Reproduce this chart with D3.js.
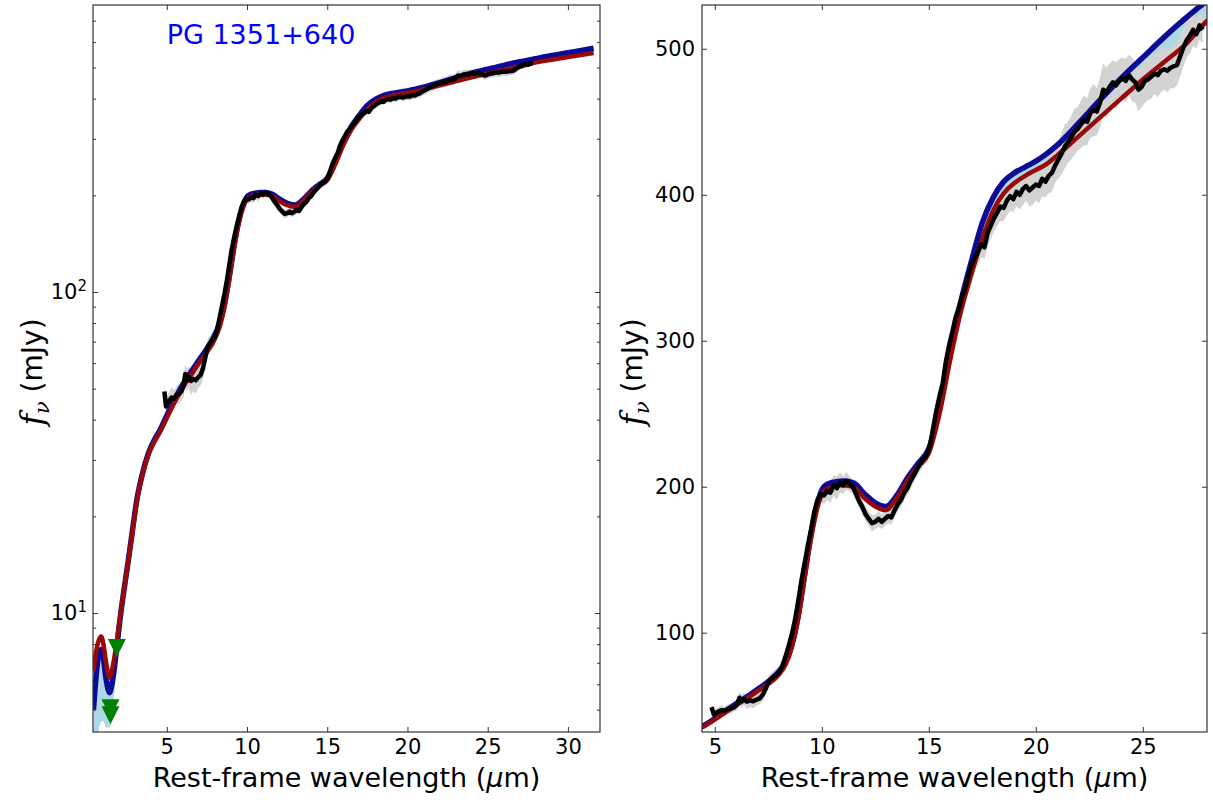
<!DOCTYPE html>
<html><head><meta charset="utf-8">
<script src="https://cdn.jsdelivr.net/npm/d3@7"></script>
<style>
body{margin:0;background:#fff;}
svg text{font-family:"DejaVu Sans",sans-serif;}
</style></head>
<body><svg id="chart" width="1213" height="800"></svg>
<script>
// ---------- data ----------
const modelWave = [0.43,0.6,0.75,0.91,1.05,1.2,1.43,1.65,1.89,2.1,
  2.3,2.61,2.9,3.11,3.45,3.84,4.2,4.56,5.0,5.5,
  6.0,6.5,7.0,7.5,8.0,8.3,8.6,8.9,9.2,9.5,
  9.8,10.1,10.5,11.0,11.5,12.0,12.5,13.0,13.5,14.0,
  14.5,15.0,15.5,16.0,16.5,17.0,17.5,18.0,18.5,19.0,
  19.5,20.0,20.5,21.0,22.0,23.0,24.0,25.0,26.0,27.0,
  28.0,29.0,30.0,31.0,31.6];
const modelRed = [6.6,7.6,8.2,8.45,8.0,7.1,6.3,6.9,8.2,9.8,
  11.5,14.6,18.5,22.0,26.5,31.0,34.0,36.5,40.5,45.5,
  50.5,55.0,60.0,65.0,71.5,78,90,110,138,165,
  186,197,200,201,199.5,192,186.5,184,192,204,
  214,223,250,287,320,346,370,389,401,408,
  413,417,421,427,440,453,466,479,491,503,
  519,529,539,549,555];
const modelBlue = [5.0,6.4,7.4,7.7,7.2,6.3,5.65,6.3,7.9,9.7,
  11.5,14.7,18.7,22.2,26.8,31.3,34.4,37.0,41.2,46.3,
  51.5,56.2,61.3,66.5,73.5,80,92,112,140,168,
  189,200,203,204,202.5,195,189,186.5,194,206,
  216,226,254,292,327,355,381,398,409,415,
  419,423,428,434,449,465,480,494,508,521,
  533,545,556,567,574];
const bandLow = [3.8,4.0,4.3,4.6,4.6,4.4,4.4,5.2,6.8,8.9,
  11.0,14.2,18.2,21.7,26.2,30.7,33.7,36.2,40.2,45.2,
  50.2,54.7,59.7,64.7,71.2,77.7,89.6,109.6,137.5,164.5,
  185.5,196.5,199.5,200.5,199,191.5,186,183.5,191.5,203.5,
  213.5,222.5,249.5,286,319,345,369,388,400,407,
  412,416,420,426,439,452,465,478,490,502,
  516,527,538,548,554];

const dataWave = [4.85,4.95,5.05,5.15,5.30,5.45,5.60,5.75,5.90,6.05,
  6.15,6.25,6.35,6.50,6.65,6.80,6.95,7.10,7.25,7.40,
  7.55,7.70,7.85,8.00,8.15,8.30,8.45,8.60,8.75,8.90,
  9.05,9.20,9.35,9.50,9.65,9.80,9.95,10.10,10.25,10.40,
  10.55,10.70,10.85,11.00,11.15,11.30,11.45,11.60,11.75,11.90,
  12.05,12.20,12.35,12.50,12.65,12.80,12.95,13.10,13.25,13.40,
  13.55,13.70,13.85,14.00,14.15,14.30,14.45,14.60,14.75,14.90,
  15.05,15.20,15.35,15.50,15.65,15.80,15.95,16.10,16.25,16.40,
  16.55,16.70,16.85,17.00,17.15,17.30,17.45,17.60,17.75,17.90,
  18.05,18.20,18.35,18.50,18.65,18.80,18.95,19.10,19.25,19.40,
  19.55,19.70,19.85,20.00,20.15,20.30,20.45,20.60,20.75,20.90,
  21.05,21.20,21.35,21.50,21.65,21.80,21.95,22.10,22.25,22.40,
  22.55,22.70,22.85,23.00,23.15,23.30,23.45,23.60,23.75,23.90,
  24.05,24.20,24.35,24.50,24.65,24.80,24.95,25.10,25.25,25.40,
  25.55,25.70,25.85,26.00,26.15,26.30,26.45,26.60,26.75,26.90,
  27.05,27.20,27.35,27.50,27.65,27.80];
const dataFlux = [49.0,44.0,45.2,45.8,46.9,46.5,47.8,48.1,48.9,51.0,
  55.5,53.2,54.5,52.8,53.6,53.1,54.2,55.0,57.8,62.5,
  67.5,69.2,71.0,72.5,77.0,83.5,91.0,99.0,109,122,
  136,148,160,171,183,191,195,194,197,196,
  201,199,203,201,204,202,200,195,190,186,
  181,178,175,176,178,176,178,180,179,184,
  188,191,196,199,204,208,212,216,219,222,
  228,240,252,262,271,286,297,306,316,322,
  330,336,345,352,357,361,366,364,374,379,
  384,388,392,391,396,399,397,402,400,404,
  406,403,405,407,406,411,409,413,415,420,
  424,428,433,436,439,443,445,448,451,450,
  456,458,457,463,472,470,474,477,475,478,
  480,478,482,479,477,472,474,478,479,481,
  483,482,485,486,485,487,488,489,495,501,
  506,509,513,510,516,513];
const dataErr = [3,3,2.5,3,3.5,3,3,3.5,3,4,
  4,4.5,4,5,4.5,5,4,4,4.5,4,
  4,4,4.5,4,4,4,4,4,4.5,5,
  5,5,5,5,5,5,5.5,6,6,7,
  7,8,7,6,6,5,5,5,5,5,
  5,5,5.5,5,5,5,5,5,5,5,
  5,5,5,5,5,5,5,5,5,5,
  5,6,6,6,6,6,6,6,7,6,
  7,7,8,8,8,9,9,8,9,9,
  9,9,10,9,10,10,9,10,10,11,
  10,11,12,11,12,12,11,12,13,12,
  13,14,15,14,15,16,15,16,17,16,
  17,18,16,17,18,17,16,15,16,15,
  14,15,14,15,14,15,14,15,14,15,
  14,15,15,14,15,14,15,14,14,13,
  12,12,11,10,10,9];

const limitWave = [1.89, 1.49, 1.49];
const limitFlux = [7.78, 5.05, 4.8];

const titleText = "PG 1351+640";
const leftXTicks = [5,10,15,20,25,30];
const rightXTicks = [5,10,15,20,25];
const leftYMajor = [10,100];
const leftYMinor = [5,6,7,8,9,20,30,40,50,60,70,80,90,200,300,400,500,600,700];
const rightYTicks = [100,200,300,400,500];

// ---------- layout ----------
const svg = d3.select("#chart");
const FRAME = "#333";
const C = {blue:"#0b0b96", red:"#960a0a", band:"#add8e6", grey:"#d3d3d3", green:"#008000", black:"#000"};

const panels = [
  {id:"L", x0:93, x1:600, y0:5, y1:732,
   x: d3.scaleLinear([0.4,32],[93,600]),
   y: d3.scaleLog([4.26,783],[732,5]),
   xt:leftXTicks, log:true},
  {id:"R", x0:702, x1:1207, y0:5, y1:732,
   x: d3.scaleLinear([4.4,28],[702,1207]),
   y: d3.scaleLinear([32,530],[732,5]),
   xt:rightXTicks, log:false}
];

const modelIdx = d3.range(modelWave.length);
const dataIdx = d3.range(dataWave.length);

panels.forEach(p => {
  const g = svg.append("g");
  svg.append("clipPath").attr("id","clip"+p.id)
    .append("rect").attr("x",p.x0).attr("y",p.y0)
    .attr("width",p.x1-p.x0).attr("height",p.y1-p.y0);
  const plot = g.append("g").attr("clip-path",`url(#clip${p.id})`);
  const x = p.x, y = p.y;

  plot.append("path").datum(modelIdx)
    .attr("d", d3.area().curve(d3.curveMonotoneX)
      .x(i=>x(modelWave[i])).y0(i=>y(bandLow[i])).y1(i=>y(modelBlue[i])))
    .attr("fill", C.band);
  plot.append("path").datum(dataIdx)
    .attr("d", d3.area()
      .x(i=>x(dataWave[i])).y0(i=>y(dataFlux[i]-dataErr[i])).y1(i=>y(dataFlux[i]+dataErr[i])))
    .attr("fill", C.grey);
  plot.append("path").datum(modelIdx)
    .attr("d", d3.line().curve(d3.curveMonotoneX).x(i=>x(modelWave[i])).y(i=>y(modelBlue[i])))
    .attr("fill","none").attr("stroke",C.blue).attr("stroke-width",5.5).attr("stroke-linejoin","round");
  plot.append("path").datum(modelIdx)
    .attr("d", d3.line().curve(d3.curveMonotoneX).x(i=>x(modelWave[i])).y(i=>y(modelRed[i])))
    .attr("fill","none").attr("stroke",C.red).attr("stroke-width",4.5).attr("stroke-linejoin","round");
  plot.append("path").datum(dataIdx)
    .attr("d", d3.line().x(i=>x(dataWave[i])).y(i=>y(dataFlux[i])))
    .attr("fill","none").attr("stroke",C.black).attr("stroke-width",4.5).attr("stroke-linejoin","round");
  if (p.log) {
    g.selectAll(".lim").data(d3.range(limitWave.length)).join("path")
      .attr("transform", i=>`translate(${x(limitWave[i])},${y(limitFlux[i])})`)
      .attr("d","M-9,-9L9,-9L0,9Z").attr("fill",C.green);
  }

  const styleAxis = a => { a.select(".domain").remove();
    a.attr("font-family","DejaVu Sans, sans-serif").attr("font-size",21);
    a.selectAll("line").attr("stroke",FRAME);
    a.selectAll("text").attr("fill","#000"); };

  g.append("g").attr("transform",`translate(0,${p.y1})`)
    .call(d3.axisBottom(x).tickValues(p.xt).tickSizeInner(-5).tickSizeOuter(0).tickPadding(7).tickFormat(d3.format("d")))
    .call(styleAxis);
  g.append("g").attr("transform",`translate(0,${p.y0})`)
    .call(d3.axisTop(x).tickValues(p.xt).tickSizeInner(-5).tickSizeOuter(0).tickFormat(""))
    .call(styleAxis);

  if (p.log) {
    const yl = g.append("g").attr("transform",`translate(${p.x0},0)`)
      .call(d3.axisLeft(y).tickValues(leftYMajor).tickSizeInner(-5).tickSizeOuter(0).tickPadding(6).tickFormat(""))
      .call(styleAxis);
    yl.selectAll(".tick text").each(function(d){
      const t = d3.select(this).attr("dy","0.32em");
      t.append("tspan").text("10");
      t.append("tspan").attr("dy","-0.55em").attr("font-size",15).text(Math.round(Math.log10(d)));
    });
    g.append("g").attr("transform",`translate(${p.x0},0)`)
      .call(d3.axisLeft(y).tickValues(leftYMinor).tickSizeInner(-3).tickSizeOuter(0).tickFormat(""))
      .call(styleAxis);
    g.append("g").attr("transform",`translate(${p.x1},0)`)
      .call(d3.axisRight(y).tickValues(leftYMajor).tickSizeInner(-5).tickSizeOuter(0).tickFormat(""))
      .call(styleAxis);
    g.append("g").attr("transform",`translate(${p.x1},0)`)
      .call(d3.axisRight(y).tickValues(leftYMinor).tickSizeInner(-3).tickSizeOuter(0).tickFormat(""))
      .call(styleAxis);
  } else {
    g.append("g").attr("transform",`translate(${p.x0},0)`)
      .call(d3.axisLeft(y).tickValues(rightYTicks).tickSizeInner(-5).tickSizeOuter(0).tickPadding(7).tickFormat(d3.format("d")))
      .call(styleAxis);
    g.append("g").attr("transform",`translate(${p.x1},0)`)
      .call(d3.axisRight(y).tickValues(rightYTicks).tickSizeInner(-5).tickSizeOuter(0).tickFormat(""))
      .call(styleAxis);
  }

  g.append("rect").attr("x",p.x0).attr("y",p.y0).attr("width",p.x1-p.x0).attr("height",p.y1-p.y0)
    .attr("fill","none").attr("stroke",FRAME).attr("stroke-width",1.2);

  const xl = g.append("text").attr("x",(p.x0+p.x1)/2).attr("y",787)
    .attr("text-anchor","middle").attr("font-size",27);
  xl.append("tspan").text("Rest-frame wavelength (");
  xl.append("tspan").attr("font-style","italic").text("μ");
  xl.append("tspan").text("m)");

  const ylx = p.log ? 35 : 635;
  const ylab = g.append("text").attr("transform",`translate(${ylx},372) rotate(-90)`)
    .attr("text-anchor","middle").attr("dy","0.3em").attr("font-size",28);
  ylab.append("tspan").attr("font-style","italic").attr("font-family","DejaVu Serif, serif").attr("font-size",31).text("f");
  ylab.append("tspan").attr("font-style","italic").attr("font-family","DejaVu Serif, serif").attr("font-size",21).attr("dy","0.25em").text("ν");
  ylab.append("tspan").attr("dy","-0.25em").text(" (mJy)");
});

svg.append("text").attr("x",261).attr("y",44).attr("text-anchor","middle")
  .attr("font-size",27).attr("fill","#0000ff").text(titleText);
</script>
</body></html>
